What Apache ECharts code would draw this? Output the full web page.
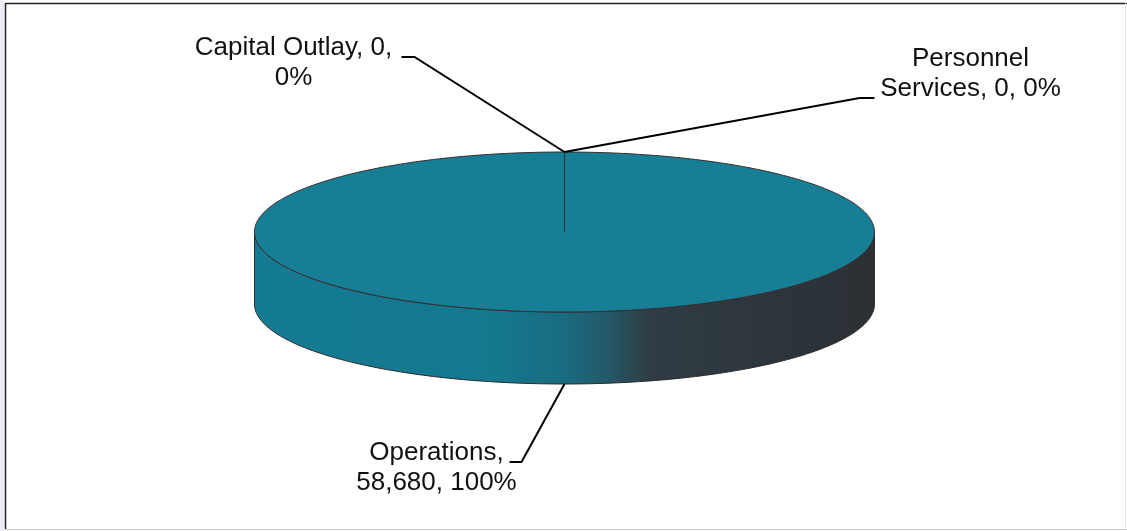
<!DOCTYPE html>
<html><head><meta charset="utf-8">
<script src="https://cdn.jsdelivr.net/npm/echarts@6/dist/echarts.min.js"></script>
<style>html,body{margin:0;padding:0;background:#fff}#c{width:1127px;height:531px}</style>
</head><body><div id="c"></div>
<script>
// ---- data ----
const categories = ['Personnel Services', 'Operations', 'Capital Outlay'];
const values = [0, 58680, 0];

// ---- derived slice fractions (clockwise from 12 o'clock) ----
const total = values.reduce((a, b) => a + b, 0);
let cum = 0;
const sliceData = values.map((v, i) => { const s = cum / total; cum += v; return [s, cum / total, v, i]; });

// ---- layout / style (pixels relative to the label anchor) ----
const DEPTH = 0.9;            // side height in y-axis units
const FONT_SIZE = 26;
const FONT_FAMILY = '"Liberation Sans", Arial, sans-serif';
const labelLayout = [
  { text: [406, -108.5], width: 192, line: [[295, -54], [310, -54]] },
  { text: [-128, 54],    width: 170, line: [[-43, 78], [-55, 78]] },
  { text: [-271, -119],  width: 212, line: [[-150, -95], [-163, -95]] }
];
const TOP_COLOR = '#167f96';
const SIDE_STOPS = [
  { offset: 0, color: '#147b92' },
  { offset: 0.38, color: '#14788f' },
  { offset: 0.5, color: '#196b80' },
  { offset: 0.57, color: '#245868' },
  { offset: 0.64, color: '#2f3c43' },
  { offset: 1, color: '#2b3034' }
];

const mctx = document.createElement('canvas').getContext('2d');
mctx.font = FONT_SIZE + 'px ' + FONT_FAMILY;
function wrapWords(text, width) {
  const words = text.split(' ');
  const lines = [];
  let cur = '';
  for (const w of words) {
    const test = cur ? cur + ' ' + w : w;
    if (cur && mctx.measureText(test).width > width) { lines.push(cur); cur = w; }
    else cur = test;
  }
  lines.push(cur);
  return lines.join('\n');
}

function pt(api, f, dy) {
  const t = Math.PI / 2 - 2 * Math.PI * f;
  return api.coord([Math.cos(t), Math.sin(t) - (dy || 0)]);
}

function renderItem(params, api) {
  const f0 = api.value(0), f1 = api.value(1), v = api.value(2), idx = api.value(3);
  const children = [];
  const N = 360;
  // side wall (front half: f in [0.25, 0.75])
  const a = Math.max(f0, 0.25), b = Math.min(f1, 0.75);
  if (b > a) {
    const pts = [];
    const n = Math.max(2, Math.ceil((b - a) * N));
    for (let k = 0; k <= n; k++) pts.push(pt(api, a + (b - a) * k / n, 0));
    for (let k = n; k >= 0; k--) pts.push(pt(api, a + (b - a) * k / n, DEPTH));
    const L = api.coord([-1, 0]), R = api.coord([1, 0]);
    children.push({
      type: 'polygon', shape: { points: pts },
      style: {
        fill: { type: 'linear', x: L[0], y: 0, x2: R[0], y2: 0, global: true, colorStops: SIDE_STOPS },
        stroke: '#2a2a2e', lineWidth: 1
      }
    });
  }
  // top face
  if (f1 > f0) {
    const pts = [api.coord([0, 0])];
    const n = Math.max(2, Math.ceil((f1 - f0) * N));
    for (let k = 0; k <= n; k++) pts.push(pt(api, f0 + (f1 - f0) * k / n, 0));
    children.push({
      type: 'polygon', shape: { points: pts },
      style: { fill: TOP_COLOR, stroke: '#3a2c30', lineWidth: 1 }
    });
  }
  // label
  const fm = (f0 + f1) / 2;
  const tm = Math.PI / 2 - 2 * Math.PI * fm;
  const anc = Math.sin(tm) < -1e-9 ? pt(api, fm, DEPTH) : pt(api, fm, 0);
  const lay = labelLayout[idx];
  const txt = categories[idx] + ', ' + v.toLocaleString('en-US') + ', ' + Math.round(v / total * 100) + '%';
  children.push({
    type: 'polyline',
    shape: { points: [anc, [anc[0] + lay.line[0][0], anc[1] + lay.line[0][1]], [anc[0] + lay.line[1][0], anc[1] + lay.line[1][1]]] },
    style: { stroke: '#000', lineWidth: 2, fill: null },
    z2: 10
  });
  children.push({
    type: 'text',
    x: anc[0] + lay.text[0], y: anc[1] + lay.text[1],
    style: {
      text: wrapWords(txt, lay.width), fill: '#111', fontSize: FONT_SIZE, fontFamily: FONT_FAMILY,
      align: 'center', verticalAlign: 'top', lineHeight: 30
    },
    z2: 10
  });
  return { type: 'group', children };
}

const chart = echarts.init(document.getElementById('c'), null, { renderer: 'canvas' });
chart.setOption({
  animation: false,
  backgroundColor: '#fff',
  grid: { left: 254.5, width: 620, top: 152, height: 232 },
  xAxis: { type: 'value', min: -1, max: 1, show: false },
  yAxis: { type: 'value', min: -1.9, max: 1, show: false },
  graphic: [
    { type: 'rect', shape: { x: 0, y: 0, width: 4, height: 531 }, style: { fill: '#eceff4' } },
    { type: 'line', shape: { x1: 5, y1: 3.5, x2: 1127, y2: 3.5 }, style: { stroke: '#222', lineWidth: 1.5 } },
    { type: 'line', shape: { x1: 5.5, y1: 3, x2: 5.5, y2: 529 }, style: { stroke: '#222', lineWidth: 1.5 } },
    { type: 'line', shape: { x1: 5, y1: 529.5, x2: 1127, y2: 529.5 }, style: { stroke: '#c8c8c8', lineWidth: 1 } },
    { type: 'line', shape: { x1: 1125.5, y1: 3, x2: 1125.5, y2: 529 }, style: { stroke: '#e6e6e6', lineWidth: 1 } }
  ],
  series: [{
    type: 'custom',
    coordinateSystem: 'cartesian2d',
    clip: false,
    renderItem: renderItem,
    data: sliceData
  }]
});
</script>
</body></html>
